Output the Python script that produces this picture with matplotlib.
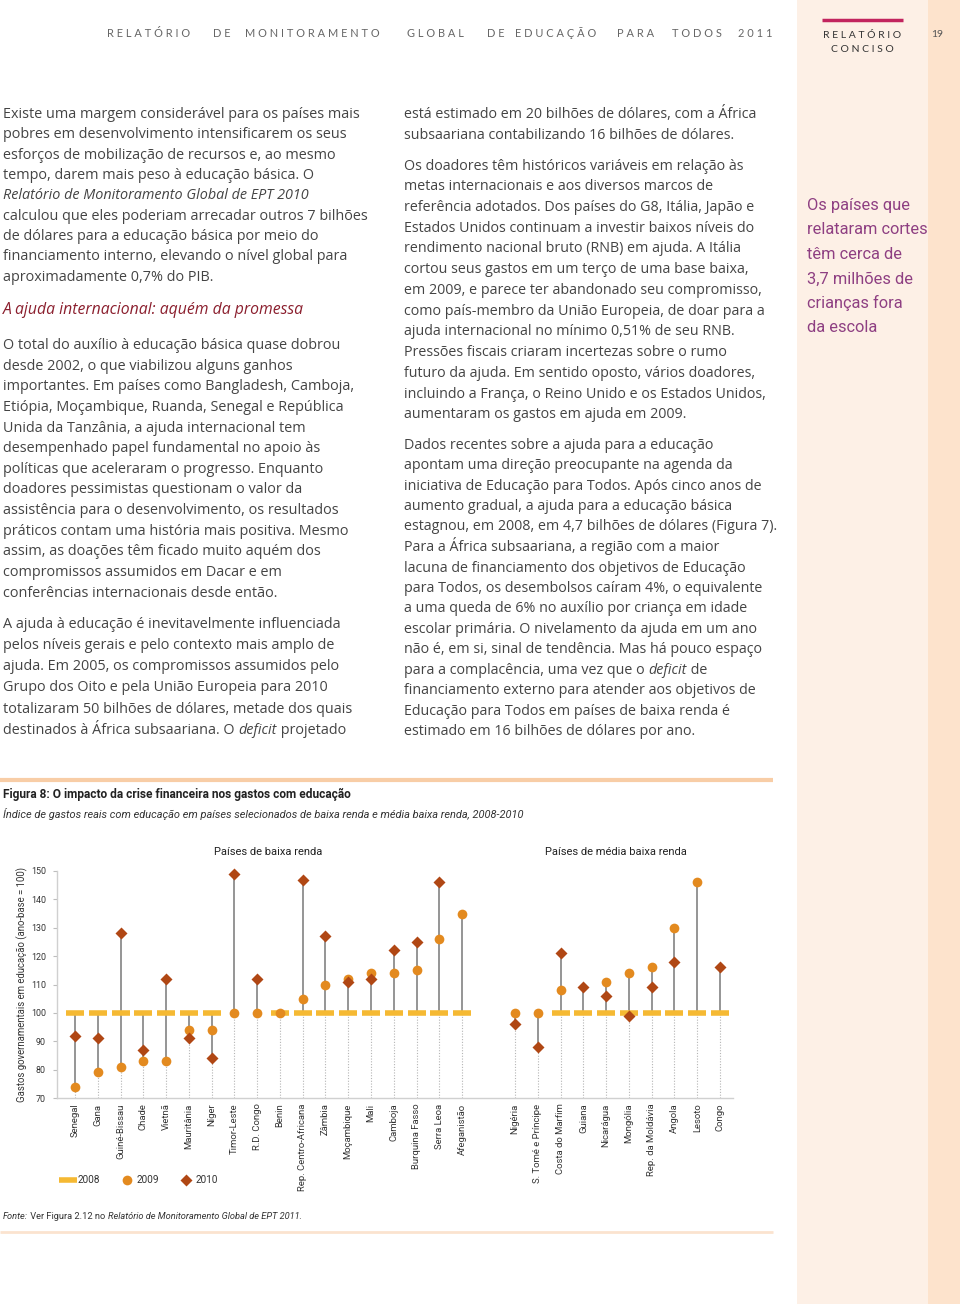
import numpy as np
import matplotlib
matplotlib.use("Agg")
import matplotlib.pyplot as plt

# --- chart data (index, real spending on education, base year = 100) ---
low_countries = ["Senegal", "Gana", "Guiné-Bissau", "Chade", "Vietnã", "Mauritânia", "Níger",
                 "Timor-Leste", "R.D. Congo", "Benin", "Rep. Centro-Africana", "Zâmbia",
                 "Moçambique", "Mali", "Camboja", "Burquina Fasso", "Serra Leoa", "Afeganistão"]
low_2008 = [100, 100, 100, 100, 100, 100, 100, np.nan, np.nan, 100, 100, 100,
            100, 100, 100, 100, 100, 100]
low_2009 = [74, 79, 81, 83, 83, 94, 94, 100, 100, 100, 105, 110,
            112, 114, 114, 115, 126, 135]
low_2010 = [92, 91, 128, 87, 112, 91, 84, 149, 112, np.nan, 147, 127,
            111, 112, 122, 125, 146, np.nan]

mid_countries = ["Nigéria", "S. Tomé e Príncipe", "Costa do Marfim", "Guiana", "Nicarágua",
                 "Mongólia", "Rep. da Moldávia", "Angola", "Lesoto", "Congo"]
mid_2008 = [np.nan, np.nan, 100, 100, 100, 100, 100, 100, 100, 100]
mid_2009 = [100, 100, 108, np.nan, 111, 114, 116, 130, 146, np.nan]
mid_2010 = [96, 88, 121, 109, 106, 99, 109, 118, np.nan, 116]

years = ["2008", "2009", "2010"]
yticks = [70, 80, 90, 100, 110, 120, 130, 140, 150]

# --- page text ---
left_col = [
    (113, [("Existe uma margem considerável para os países mais", "normal")]),
    (133, [("pobres em desenvolvimento intensificarem os seus", "normal")]),
    (154, [("esforços de mobilização de recursos e, ao mesmo", "normal")]),
    (174, [("tempo, darem mais peso à educação básica. O", "normal")]),
    (194, [("Relatório de Monitoramento Global de EPT 2010", "italic")]),
    (215, [("calculou que eles poderiam arrecadar outros 7 bilhões", "normal")]),
    (235, [("de dólares para a educação básica por meio do", "normal")]),
    (255, [("financiamento interno, elevando o nível global para", "normal")]),
    (276, [("aproximadamente 0,7% do PIB.", "normal")]),
    (344, [("O total do auxílio à educação básica quase dobrou", "normal")]),
    (365, [("desde 2002, o que viabilizou alguns ganhos", "normal")]),
    (385, [("importantes. Em países como Bangladesh, Camboja,", "normal")]),
    (406, [("Etiópia, Moçambique, Ruanda, Senegal e República", "normal")]),
    (427, [("Unida da Tanzânia, a ajuda internacional tem", "normal")]),
    (447, [("desempenhado papel fundamental no apoio às", "normal")]),
    (468, [("políticas que aceleraram o progresso. Enquanto", "normal")]),
    (488, [("doadores pessimistas questionam o valor da", "normal")]),
    (509, [("assistência para o desenvolvimento, os resultados", "normal")]),
    (530, [("práticos contam uma história mais positiva. Mesmo", "normal")]),
    (550, [("assim, as doações têm ficado muito aquém dos", "normal")]),
    (571, [("compromissos assumidos em Dacar e em", "normal")]),
    (592, [("conferências internacionais desde então.", "normal")]),
    (623, [("A ajuda à educação é inevitavelmente influenciada", "normal")]),
    (644, [("pelos níveis gerais e pelo contexto mais amplo de", "normal")]),
    (665, [("ajuda. Em 2005, os compromissos assumidos pelo", "normal")]),
    (686, [("Grupo dos Oito e pela União Europeia para 2010", "normal")]),
    (708, [("totalizaram 50 bilhões de dólares, metade dos quais", "normal")]),
    (729, [("destinados à África subsaariana. O ", "normal"), ("deficit", "italic"),
           (" projetado", "normal")]),
]
right_col = [
    (113, [("está estimado em 20 bilhões de dólares, com a África", "normal")]),
    (134, [("subsaariana contabilizando 16 bilhões de dólares.", "normal")]),
    (165, [("Os doadores têm históricos variáveis em relação às", "normal")]),
    (185, [("metas internacionais e aos diversos marcos de", "normal")]),
    (206, [("referência adotados. Dos países do G8, Itália, Japão e", "normal")]),
    (227, [("Estados Unidos continuam a investir baixos níveis do", "normal")]),
    (247, [("rendimento nacional bruto (RNB) em ajuda. A Itália", "normal")]),
    (268, [("cortou seus gastos em um terço de uma base baixa,", "normal")]),
    (289, [("em 2009, e parece ter abandonado seu compromisso,", "normal")]),
    (310, [("como país-membro da União Europeia, de doar para a", "normal")]),
    (330, [("ajuda internacional no mínimo 0,51% de seu RNB.", "normal")]),
    (351, [("Pressões fiscais criaram incertezas sobre o rumo", "normal")]),
    (372, [("futuro da ajuda. Em sentido oposto, vários doadores,", "normal")]),
    (393, [("incluindo a França, o Reino Unido e os Estados Unidos,", "normal")]),
    (413, [("aumentaram os gastos em ajuda em 2009.", "normal")]),
    (444, [("Dados recentes sobre a ajuda para a educação", "normal")]),
    (464, [("apontam uma direção preocupante na agenda da", "normal")]),
    (485, [("iniciativa de Educação para Todos. Após cinco anos de", "normal")]),
    (505, [("aumento gradual, a ajuda para a educação básica", "normal")]),
    (525, [("estagnou, em 2008, em 4,7 bilhões de dólares (Figura 7).", "normal")]),
    (546, [("Para a África subsaariana, a região com a maior", "normal")]),
    (567, [("lacuna de financiamento dos objetivos de Educação", "normal")]),
    (587, [("para Todos, os desembolsos caíram 4%, o equivalente", "normal")]),
    (607, [("a uma queda de 6% no auxílio por criança em idade", "normal")]),
    (628, [("escolar primária. O nivelamento da ajuda em um ano", "normal")]),
    (648, [("não é, em si, sinal de tendência. Mas há pouco espaço", "normal")]),
    (669, [("para a complacência, uma vez que o ", "normal"), ("deficit", "italic"),
           (" de", "normal")]),
    (689, [("financiamento externo para atender aos objetivos de", "normal")]),
    (710, [("Educação para Todos em países de baixa renda é", "normal")]),
    (730, [("estimado em 16 bilhões de dólares por ano.", "normal")]),
]
quote_lines = ["Os países que", "relataram cortes", "têm cerca de",
               "3,7 milhões de", "crianças fora", "da escola"]
header_words = ["RELATÓRIO", "DE", "MONITORAMENTO", "GLOBAL", "DE", "EDUCAÇÃO",
                "PARA", "TODOS", "2011"]
header_x = [107, 213, 245, 407, 487, 515, 617, 672, 738]

BODY_FONT = "Open Sans"
CHART_FONT = "Roboto"
TEXT_C = "#444444"

fig = plt.figure(figsize=(9.6, 13.04), dpi=100)

# page background layer in pixel coordinates
bg = fig.add_axes([0, 0, 1, 1])
bg.set_xlim(0, 960)
bg.set_ylim(1304, 0)
bg.axis("off")

bg.axvspan(797, 928, color="#fdf0e6", lw=0, zorder=0)
bg.axvspan(928, 960, color="#fde3cc", lw=0, zorder=0)
bg.plot([822, 903], [20, 20], color="#c2245e", lw=2.5, solid_capstyle="butt")
bg.text(862, 38, "R E L A T Ó R I O", ha="center", va="baseline", fontsize=7.5,
        family="Lato", color="#333333")
bg.text(862, 52, "C O N C I S O", ha="center", va="baseline", fontsize=7.5,
        family="Lato", color="#333333")
bg.text(937, 37, "19", ha="center", va="baseline", fontsize=7.5, family="Lato",
        color="#555555")
for w, x in zip(header_words, header_x):
    bg.text(x, 37, " ".join(w), ha="left", va="baseline", fontsize=7.9,
            family="Lato", color="#666666")


def rich_line(x, y, parts, size, color, family):
    t = bg.text(x, y, parts[0][0], style=parts[0][1], ha="left", va="baseline",
                fontsize=size, color=color, family=family)
    for s, st in parts[1:]:
        t = bg.annotate(s, xy=(1, 0), xycoords=t, ha="left", va="bottom", style=st,
                        fontsize=size, color=color, family=family)


for y, parts in left_col:
    rich_line(3, y + 5, parts, 10.35, TEXT_C, BODY_FONT)
for y, parts in right_col:
    rich_line(404, y + 5, parts, 10.3, TEXT_C, BODY_FONT)

bg.text(3, 314, "A ajuda internacional: aquém da promessa", style="italic",
        ha="left", va="baseline", fontsize=11.3, color="#8b1f2e", family=BODY_FONT)

for i, s in enumerate(quote_lines):
    bg.text(807, 210 + i * 24.5, s, ha="left", va="baseline", fontsize=11.8,
            color="#8e3f82", family=CHART_FONT)

# figure block
bg.plot([0, 773], [780, 780], color="#f8cda6", lw=3, solid_capstyle="butt")
bg.plot([0, 773], [1232, 1232], color="#fbe3cf", lw=2, solid_capstyle="butt")
bg.text(3, 798, "Figura 8: O impacto da crise financeira nos gastos com educação",
        ha="left", va="baseline", fontsize=8.6, weight="bold", color="#222222",
        family=CHART_FONT)
bg.text(3, 818, "Índice de gastos reais com educação em países selecionados de baixa renda "
        "e média baixa renda, 2008-2010", ha="left", va="baseline", fontsize=7.9,
        style="italic", color="#333333", family=CHART_FONT)
bg.text(268, 855, "Países de baixa renda", ha="center", va="baseline", fontsize=8,
        color="#222222", family=CHART_FONT)
bg.text(616, 855, "Países de média baixa renda", ha="center", va="baseline", fontsize=8,
        color="#222222", family=CHART_FONT)
bg.text(22, 985, "Gastos governamentais em educação (ano-base = 100)", rotation=90,
        ha="center", va="center", fontsize=6.9, color="#333333", family=CHART_FONT)
rich_line(3, 1219, [("Fonte:", "italic"), (" Ver Figura 2.12 no ", "normal"),
                    ("Relatório de Monitoramento Global de EPT 2011.", "italic")],
          6.65, "#333333", CHART_FONT)

# --- the chart ---
ax = fig.add_axes([57 / 960, 1 - 1098 / 1304, (733 - 57) / 960, (1098 - 871) / 1304])

countries = low_countries + mid_countries
v08 = np.array(low_2008 + mid_2008, dtype=float)
v09 = np.array(low_2009 + mid_2009, dtype=float)
v10 = np.array(low_2010 + mid_2010, dtype=float)
xpos = np.concatenate([np.arange(len(low_countries)),
                       len(low_countries) + 1.33 + np.arange(len(mid_countries))])

stack = np.vstack([v08, v09, v10])
lo = np.nanmin(stack, axis=0)
hi = np.nanmax(stack, axis=0)
ax.vlines(xpos, 70, lo, colors="#b5b5b5", linestyles=(0, (1, 1.5)), lw=0.8, zorder=1)
ax.vlines(xpos, lo, hi, colors="#8c8c8c", lw=1.3, zorder=1)

h08, = ax.plot(xpos, v08, ls="none", marker="_", ms=13, mew=4, color="#f5b933",
               zorder=2, clip_on=False)
h09, = ax.plot(xpos, v09, ls="none", marker="o", ms=7, color="#e38a1f", mec="none",
               zorder=3, clip_on=False)
h10, = ax.plot(xpos, v10, ls="none", marker="D", ms=6, color="#b04714", mec="none",
               zorder=4, clip_on=False)

ax.set_ylim(70, 150)
ax.set_xlim(-0.79, xpos[-1] + 0.57)
ax.set_yticks(yticks)
ax.set_yticklabels([str(v) for v in yticks], fontsize=6.4, color="#333333",
                   family=CHART_FONT)
ax.set_xticks(xpos)
ax.set_xticklabels(countries, rotation=90, fontsize=6.8, color="#333333",
                   family=CHART_FONT, va="top", ha="center")
ax.tick_params(axis="x", length=0, pad=4)
ax.tick_params(axis="y", length=3, width=0.8, color="#bdbdbd", pad=5)
for side in ["top", "right"]:
    ax.spines[side].set_visible(False)
for side in ["left", "bottom"]:
    ax.spines[side].set_color("#d0d0d0")
    ax.spines[side].set_linewidth(1)
ax.patch.set_alpha(0)

leg = ax.legend([h08, h09, h10], years, loc="center left", ncol=3, frameon=False,
                bbox_to_anchor=(53 / 960, 1 - 1180 / 1304), bbox_transform=fig.transFigure,
                numpoints=1, handlelength=1.1, handletextpad=0.5, columnspacing=2.05,
                prop={"family": CHART_FONT, "size": 7.2})
for t in leg.get_texts():
    t.set_color("#333333")

fig.savefig("out.png", dpi=100)
